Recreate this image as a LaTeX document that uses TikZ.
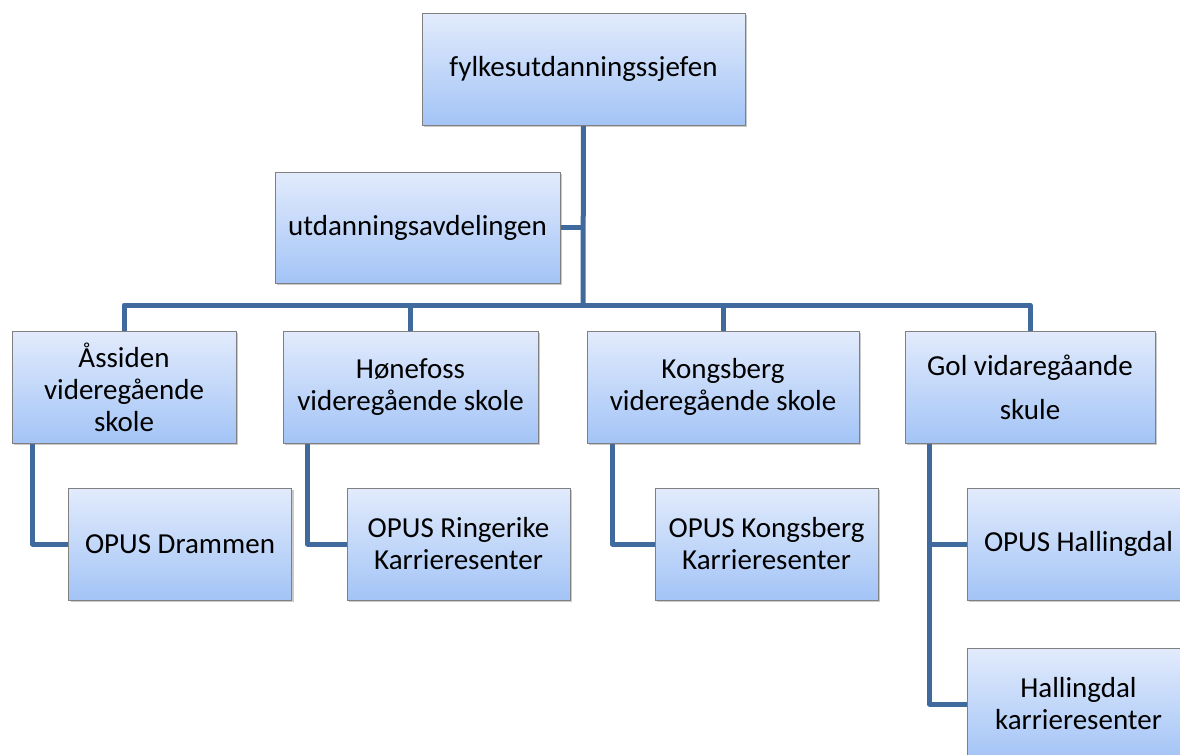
\documentclass[tikz,border=0pt]{standalone}
\usepackage{fontspec}
\setmainfont{Carlito}
\usepackage{xcolor}
\usepackage{tikz}
\usetikzlibrary{positioning, shadows, backgrounds}

\definecolor{linkblue}{RGB}{64,106,158}
\definecolor{boxtop}{RGB}{226,235,252}
\definecolor{boxbottom}{RGB}{163,196,246}
\definecolor{boxedge}{RGB}{128,128,128}

\tikzset{
  unit/.style={draw=boxedge, line width=0.4pt, top color=boxtop, bottom color=boxbottom,
    align=center, inner sep=2pt, font=\fontsize{14.5}{16}\selectfont,
    drop shadow={shadow xshift=1.2pt, shadow yshift=-1.2pt, opacity=0.35, fill=black!60}},
  link/.style={draw=linkblue, line width=2.5pt, line join=round}
}

\begin{document}
\begin{tikzpicture}[x=0.5pt, y=-0.5pt]
\path[use as bounding box, clip] (0,0) rectangle (1180,755);
% top levels
\node[unit, minimum width=161.5pt, minimum height=56pt] (sjef) at (583.5,69) {fylkesutdanningssjefen};
\node[unit, minimum width=142.5pt, minimum height=55.5pt] (avd) at (417.5,227.5) {utdanningsavdelingen};
% schools
\node[unit, minimum width=112pt, minimum height=56pt] (aass) at (124,387) {Åssiden\\videregående\\skole};
\node[unit, minimum width=127.5pt, minimum height=56pt] (hone) at (410.5,387) {Hønefoss\\videregående skole};
\node[unit, minimum width=136pt, minimum height=56pt] (kong) at (723,387) {Kongsberg\\videregående skole};
\node[unit, minimum width=125pt, minimum height=56pt] (gol) at (1030,387) {Gol vidaregåande\\[6pt]skule};
% career centres
\node[unit, minimum width=111.5pt, minimum height=56pt] (drammen) at (180,544) {OPUS Drammen};
\node[unit, minimum width=111.5pt, minimum height=56pt] (ringerike) at (458.5,544) {OPUS Ringerike\\Karrieresenter};
\node[unit, minimum width=111.5pt, minimum height=56pt] (kongkarr) at (766.5,544) {OPUS Kongsberg\\Karrieresenter};
\node[unit, minimum width=111.5pt, minimum height=56pt] (hallopus) at (1078.5,544) {OPUS Hallingdal};
\node[unit, minimum width=111.5pt, minimum height=56pt] (hallkarr) at (1078.5,704) {Hallingdal\\karrieresenter};
% connectors
\coordinate (bus) at (583,305);
\begin{scope}[on background layer]
\draw[link] (sjef.south) -- (bus);
\draw[link] (avd.east) -- (avd.east -| sjef.south);
\draw[link] (aass.north) -- (aass.north |- bus) -- (gol.north |- bus) -- (gol.north);
\draw[link] (hone.north |- bus) -- (hone.north);
\draw[link] (kong.north |- bus) -- (kong.north);
\draw[link] ([xshift=10.5pt]aass.south west) |- (drammen.west);
\draw[link] ([xshift=12.5pt]hone.south west) |- (ringerike.west);
\draw[link] ([xshift=13pt]kong.south west) |- (kongkarr.west);
\draw[link] ([xshift=12.5pt]gol.south west) |- (hallopus.west);
\draw[link] ([xshift=12.5pt]gol.south west) |- (hallkarr.west);
\end{scope}
\end{tikzpicture}
\end{document}
